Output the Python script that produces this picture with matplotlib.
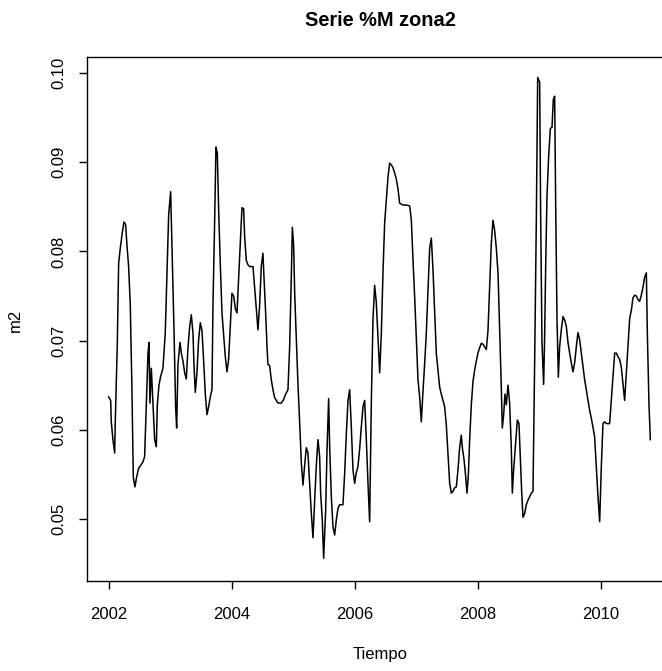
import matplotlib
matplotlib.use("Agg")
import matplotlib.pyplot as plt

plt.rcParams['font.family'] = ['Liberation Sans', 'DejaVu Sans']

# serie m2 (fraccion de año, valor)
tiempo = [
    2002.000, 2002.033, 2002.043, 2002.070, 2002.098, 2002.108, 2002.141, 2002.163, 2002.190, 2002.222,
    2002.249, 2002.276, 2002.298, 2002.325, 2002.352, 2002.379, 2002.401, 2002.428, 2002.455, 2002.488,
    2002.520, 2002.558, 2002.585, 2002.612, 2002.640, 2002.656, 2002.672, 2002.694, 2002.721, 2002.748,
    2002.775, 2002.791, 2002.818, 2002.846, 2002.883, 2002.921, 2002.949, 2002.976, 2003.008, 2003.030,
    2003.062, 2003.089, 2003.106, 2003.127, 2003.160, 2003.182, 2003.209, 2003.236, 2003.263, 2003.290,
    2003.317, 2003.344, 2003.371, 2003.388, 2003.409, 2003.436, 2003.463, 2003.491, 2003.518, 2003.545,
    2003.572, 2003.599, 2003.626, 2003.653, 2003.680, 2003.696, 2003.724, 2003.745, 2003.767, 2003.789,
    2003.816, 2003.843, 2003.870, 2003.897, 2003.924, 2003.951, 2003.978, 2004.005, 2004.033, 2004.060,
    2004.087, 2004.114, 2004.141, 2004.168, 2004.195, 2004.211, 2004.238, 2004.266, 2004.293, 2004.347,
    2004.374, 2004.401, 2004.428, 2004.455, 2004.482, 2004.509, 2004.526, 2004.553, 2004.575, 2004.591,
    2004.618, 2004.645, 2004.672, 2004.699, 2004.754, 2004.808, 2004.846, 2004.878, 2004.916, 2004.943,
    2004.970, 2004.987, 2005.008, 2005.025, 2005.052, 2005.079, 2005.106, 2005.133, 2005.160, 2005.187,
    2005.214, 2005.241, 2005.268, 2005.295, 2005.323, 2005.350, 2005.377, 2005.404, 2005.431, 2005.447,
    2005.474, 2005.496, 2005.529, 2005.550, 2005.577, 2005.594, 2005.621, 2005.648, 2005.675, 2005.702,
    2005.729, 2005.756, 2005.810, 2005.838, 2005.865, 2005.892, 2005.919, 2005.946, 2005.973, 2006.000,
    2006.027, 2006.054, 2006.081, 2006.108, 2006.136, 2006.163, 2006.190, 2006.217, 2006.244, 2006.271,
    2006.298, 2006.325, 2006.352, 2006.379, 2006.407, 2006.434, 2006.461, 2006.488, 2006.515, 2006.542,
    2006.569, 2006.596, 2006.623, 2006.650, 2006.678, 2006.705, 2006.732, 2006.786, 2006.840, 2006.894,
    2006.921, 2006.949, 2006.976, 2007.003, 2007.030, 2007.057, 2007.084, 2007.111, 2007.138, 2007.165,
    2007.192, 2007.220, 2007.247, 2007.274, 2007.301, 2007.328, 2007.366, 2007.382, 2007.409, 2007.436,
    2007.463, 2007.491, 2007.518, 2007.545, 2007.572, 2007.599, 2007.626, 2007.653, 2007.680, 2007.707,
    2007.734, 2007.751, 2007.778, 2007.805, 2007.826, 2007.848, 2007.870, 2007.897, 2007.924, 2007.951,
    2007.978, 2008.005, 2008.032, 2008.060, 2008.087, 2008.114, 2008.141, 2008.168, 2008.195, 2008.222,
    2008.249, 2008.276, 2008.303, 2008.331, 2008.358, 2008.385, 2008.401, 2008.423, 2008.444, 2008.466,
    2008.493, 2008.520, 2008.547, 2008.564, 2008.585, 2008.618, 2008.645, 2008.672, 2008.694, 2008.715,
    2008.737, 2008.764, 2008.791, 2008.818, 2008.846, 2008.873, 2008.900, 2008.927, 2008.954, 2008.976,
    2009.008, 2009.024, 2009.046, 2009.073, 2009.089, 2009.106, 2009.127, 2009.154, 2009.182, 2009.209,
    2009.230, 2009.252, 2009.268, 2009.290, 2009.312, 2009.333, 2009.360, 2009.388, 2009.415, 2009.442,
    2009.469, 2009.496, 2009.523, 2009.550, 2009.577, 2009.604, 2009.631, 2009.658, 2009.686, 2009.713,
    2009.740, 2009.767, 2009.794, 2009.821, 2009.848, 2009.875, 2009.902, 2009.929, 2009.957, 2009.984,
    2010.011, 2010.038, 2010.065, 2010.092, 2010.146, 2010.173, 2010.200, 2010.228, 2010.255, 2010.282,
    2010.309, 2010.336, 2010.363, 2010.390, 2010.417, 2010.444, 2010.472, 2010.499, 2010.526, 2010.553,
    2010.580, 2010.607, 2010.634, 2010.661, 2010.688, 2010.715, 2010.743, 2010.759, 2010.786, 2010.808,
]
m2 = [
    0.0637, 0.0633, 0.0609, 0.0589, 0.0574, 0.0609, 0.0697, 0.0787, 0.0804, 0.0821,
    0.0833, 0.0830, 0.0807, 0.0783, 0.0740, 0.0645, 0.0547, 0.0536, 0.0547, 0.0557,
    0.0560, 0.0564, 0.0570, 0.0626, 0.0686, 0.0698, 0.0630, 0.0669, 0.0630, 0.0589,
    0.0581, 0.0627, 0.0650, 0.0660, 0.0669, 0.0709, 0.0776, 0.0841, 0.0867, 0.0807,
    0.0715, 0.0626, 0.0602, 0.0673, 0.0698, 0.0686, 0.0677, 0.0664, 0.0657, 0.0692,
    0.0715, 0.0729, 0.0709, 0.0672, 0.0642, 0.0664, 0.0701, 0.0720, 0.0711, 0.0677,
    0.0640, 0.0617, 0.0626, 0.0637, 0.0645, 0.0738, 0.0835, 0.0917, 0.0910, 0.0846,
    0.0785, 0.0731, 0.0706, 0.0682, 0.0665, 0.0679, 0.0715, 0.0753, 0.0750, 0.0736,
    0.0731, 0.0771, 0.0813, 0.0849, 0.0848, 0.0817, 0.0790, 0.0785, 0.0783, 0.0783,
    0.0760, 0.0736, 0.0712, 0.0740, 0.0783, 0.0798, 0.0771, 0.0731, 0.0693, 0.0673,
    0.0672, 0.0656, 0.0645, 0.0636, 0.0630, 0.0630, 0.0634, 0.0640, 0.0645, 0.0693,
    0.0771, 0.0827, 0.0807, 0.0753, 0.0701, 0.0650, 0.0608, 0.0563, 0.0538, 0.0560,
    0.0580, 0.0574, 0.0541, 0.0507, 0.0479, 0.0521, 0.0560, 0.0589, 0.0570, 0.0529,
    0.0499, 0.0456, 0.0510, 0.0575, 0.0635, 0.0580, 0.0525, 0.0491, 0.0482, 0.0499,
    0.0512, 0.0516, 0.0516, 0.0552, 0.0596, 0.0633, 0.0645, 0.0603, 0.0555, 0.0540,
    0.0552, 0.0559, 0.0578, 0.0603, 0.0626, 0.0633, 0.0589, 0.0540, 0.0497, 0.0630,
    0.0723, 0.0762, 0.0743, 0.0704, 0.0664, 0.0708, 0.0777, 0.0832, 0.0858, 0.0883,
    0.0899, 0.0897, 0.0894, 0.0888, 0.0881, 0.0870, 0.0854, 0.0852, 0.0852, 0.0851,
    0.0836, 0.0790, 0.0749, 0.0704, 0.0656, 0.0637, 0.0609, 0.0643, 0.0674, 0.0708,
    0.0756, 0.0804, 0.0815, 0.0779, 0.0731, 0.0686, 0.0660, 0.0648, 0.0640, 0.0633,
    0.0626, 0.0605, 0.0572, 0.0540, 0.0529, 0.0531, 0.0535, 0.0536, 0.0555, 0.0580,
    0.0594, 0.0580, 0.0567, 0.0548, 0.0529, 0.0548, 0.0589, 0.0628, 0.0654, 0.0667,
    0.0677, 0.0686, 0.0692, 0.0697, 0.0696, 0.0693, 0.0690, 0.0711, 0.0759, 0.0809,
    0.0835, 0.0824, 0.0804, 0.0776, 0.0712, 0.0647, 0.0602, 0.0617, 0.0640, 0.0628,
    0.0650, 0.0630, 0.0580, 0.0529, 0.0555, 0.0585, 0.0611, 0.0607, 0.0570, 0.0532,
    0.0502, 0.0506, 0.0516, 0.0521, 0.0525, 0.0529, 0.0531, 0.0677, 0.0835, 0.0995,
    0.0990, 0.0844, 0.0698, 0.0651, 0.0704, 0.0783, 0.0861, 0.0906, 0.0938, 0.0939,
    0.0970, 0.0974, 0.0857, 0.0726, 0.0659, 0.0693, 0.0712, 0.0727, 0.0723, 0.0716,
    0.0698, 0.0686, 0.0675, 0.0665, 0.0675, 0.0693, 0.0709, 0.0701, 0.0686, 0.0671,
    0.0656, 0.0645, 0.0633, 0.0622, 0.0613, 0.0603, 0.0592, 0.0559, 0.0525, 0.0497,
    0.0559, 0.0607, 0.0609, 0.0607, 0.0607, 0.0633, 0.0660, 0.0686, 0.0686, 0.0682,
    0.0679, 0.0670, 0.0652, 0.0633, 0.0663, 0.0693, 0.0725, 0.0734, 0.0748, 0.0751,
    0.0750, 0.0746, 0.0744, 0.0751, 0.0760, 0.0771, 0.0776, 0.0709, 0.0628, 0.0589,
]

x_ticks = [2002, 2004, 2006, 2008, 2010]
y_ticks = [0.05, 0.06, 0.07, 0.08, 0.09, 0.10]

fig = plt.figure(figsize=(6.62, 6.71), dpi=100)
# la caja original sale cortada por la derecha
ax = fig.add_axes([0.1314, 0.1341, 0.8837, 0.781])

ax.plot(tiempo, m2, color='black', lw=1.1)

ax.set_xlim(2001.648, 2011.16)
ax.set_ylim(0.04305, 0.1018)
ax.set_xticks(x_ticks)
ax.set_xticklabels([str(t) for t in x_ticks])
ax.set_yticks(y_ticks)
ax.set_yticklabels(['%.2f' % v for v in y_ticks], rotation=90, va='center')

for s in ax.spines.values():
    s.set_linewidth(1.0)
ax.tick_params(axis='both', direction='out', length=6, width=1.0, labelsize=12)
ax.tick_params(axis='x', pad=13)
ax.tick_params(axis='y', pad=9)

fig.text(380 / 662, 1 - 20 / 671, 'Serie %M zona2', ha='center', va='center',
         fontsize=14.4, fontweight='bold')
fig.text(380 / 662, 1 - 654 / 671, 'Tiempo', ha='center', va='center', fontsize=12)
fig.text(15 / 662, 1 - 320 / 671, 'm2', ha='center', va='center', fontsize=12, rotation=90)

fig.savefig('out.png', dpi=100)
